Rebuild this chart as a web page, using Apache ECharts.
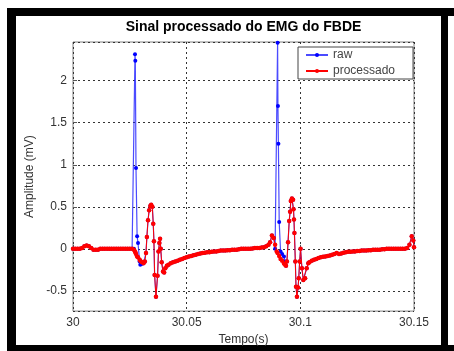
<!DOCTYPE html>
<html><head><meta charset="utf-8">
<script src="https://cdn.jsdelivr.net/npm/echarts@6/dist/echarts.min.js"></script>
<style>html,body{margin:0;padding:0;background:#fff}#c{width:454px;height:351px}</style>
</head><body><div id="c"></div>
<script>
// time in ms after 30 s
const tempoMs = [
 0,1,2,3,4,5,6,7,8,9,10,11,
 12,13,14,15,16,17,18,19,20,21,22,23,24,25,26,
 26.8,27.27,27.41,27.71,28.2,28.6,29.3,29.6,30.2,31,31.6,32.1,32.5,33,33.5,34,34.4,34.9,35.3,35.6,35.9,36.5,37.2,37.6,38,38.3,38.6,39,39.6,40.1,40.6,41.3,
 42,43,44,45,46,47,48,49,50,51,52,53,54,55,56,57,58,59,60,61,62,63,64,65,66,67,68,69,70,71,72,73,74,75,76,77,78,79,80,81,82,83,84,85,
 86,86.7,87.5,88.3,88.9,89.6,90,90.15,90.35,90.7,91.3,92,92.8,93.3,93.7,94.1,94.6,95.1,95.5,95.8,96.3,96.8,97,97.2,97.4,97.8,98.1,98.5,99,99.3,99.7,100.1,100.7,101.3,102.1,102.8,103.5,
 104,105,106,107,108,109,110,111,112,113,114,115,116,117,118,119,120,121,122,123,124,125,126,127,128,129,130,131,132,133,134,135,136,137,138,139,140,141,142,143,144,145,146,
 147,148,149,149.7,150
];
const processado = [
 0,0,0,0,.01,.03,.04,.03,.01,-.01,-.01,-.01,
 0,0,0,0,0,0,0,0,0,0,0,0,0,0,0,
 -.01,-.03,-.04,-.06,-.09,-.10,-.13,-.14,-.155,-.17,-.15,-.05,.14,.34,.46,.51,.525,.50,.30,.09,-.31,-.57,-.32,-.03,.07,.12,0,-.16,-.27,-.28,-.23,-.20,
 -.19,-.17,-.16,-.15,-.14,-.13,-.12,-.11,-.10,-.09,-.085,-.075,-.07,-.06,-.055,-.05,-.045,-.04,-.04,-.035,-.03,-.03,-.025,-.02,-.02,-.02,-.015,-.015,-.01,-.01,-.01,-.005,0,0,0,0,0,.005,.01,.01,.01,.015,.02,.03,
 .05,.08,.16,.13,.05,-.03,-.05,null,null,-.085,-.12,-.14,-.175,-.19,-.20,-.15,.08,.33,.44,.57,.60,.585,.47,.35,.19,-.15,-.45,-.57,-.46,-.35,-.15,0,-.23,-.37,-.35,-.23,-.17,
 -.16,-.14,-.13,-.12,-.11,-.10,-.095,-.09,-.085,-.08,-.07,-.06,-.05,-.06,-.055,-.045,-.04,-.035,-.035,-.03,-.03,-.025,-.025,-.02,-.02,-.02,-.015,-.015,-.01,-.01,-.01,-.01,-.005,-.005,0,0,0,0,0,0,0,0,0,
 .01,.05,.15,.10,.02
];
const raw = [
 0,0,0,0,.01,.03,.04,.03,.01,-.01,-.01,-.01,
 0,0,0,0,0,0,0,0,0,0,0,0,0,0,0,
 0,2.315,2.236,.963,.15,.07,-.15,-.19,-.18,-.17,-.15,-.05,.14,.34,.46,.51,.525,.50,.30,.09,-.31,-.57,-.32,-.03,.07,.12,0,-.16,-.27,-.28,-.23,-.20,
 -.19,-.17,-.16,-.15,-.14,-.13,-.12,-.11,-.10,-.09,-.085,-.075,-.07,-.06,-.055,-.05,-.045,-.04,-.04,-.035,-.03,-.03,-.025,-.02,-.02,-.02,-.015,-.015,-.01,-.01,-.01,-.005,0,0,0,0,0,.005,.01,.01,.01,.015,.02,.03,
 .05,.08,.16,.13,0,null,2.45,1.70,1.25,.32,-.03,-.06,-.09,-.15,-.20,-.15,.08,.33,.44,.57,.60,.585,.47,.35,.19,-.15,-.45,-.57,-.46,-.35,-.15,0,-.23,-.37,-.35,-.23,-.17,
 -.16,-.14,-.13,-.12,-.11,-.10,-.095,-.09,-.085,-.08,-.07,-.06,-.05,-.06,-.055,-.045,-.04,-.035,-.035,-.03,-.03,-.025,-.025,-.02,-.02,-.02,-.015,-.015,-.01,-.01,-.01,-.01,-.005,-.005,0,0,0,0,0,0,0,0,0,
 .01,.05,.15,.10,.02
];
const xTicks = [30, 30.05, 30.1, 30.15];
const yTicks = [-0.5, 0, 0.5, 1, 1.5, 2];
const seriesNames = ['raw', 'processado'];
const titulo = 'Sinal processado do EMG do FBDE';

const FONT = '"Liberation Sans", Arial, sans-serif';
const n = Math.min(tempoMs.length, processado.length, raw.length);
const toPairs = arr => { const out = []; for (let i = 0; i < n; i++) out.push([30 + tempoMs[i] / 1000, arr[i]]); return out; };

const chart = echarts.init(document.getElementById('c'), null, {renderer: 'canvas'});
chart.setOption({
  animation: false,
  backgroundColor: '#fff',
  grid: {left: 73, top: 42, width: 341, height: 271, show: true, borderColor: '#808080', borderWidth: 1, backgroundColor: '#fff'},
  xAxis: {
    type: 'value', min: xTicks[0], max: xTicks[xTicks.length - 1], interval: 0.05,
    axisLine: {show: false},
    axisTick: {inside: true, length: 4, lineStyle: {color: '#555'}},
    splitLine: {show: true, lineStyle: {color: '#333', type: [2, 3], width: 1}},
    axisLabel: {formatter: v => String(+v.toFixed(2)), color: '#333', fontSize: 12, fontFamily: FONT, margin: 6},
    name: 'Tempo(s)', nameLocation: 'middle', nameGap: 19,
    nameTextStyle: {color: '#333', fontSize: 12, fontFamily: FONT}
  },
  yAxis: {
    type: 'value', min: -0.74, max: 2.46, minInterval: 0.5, maxInterval: 0.5, splitNumber: 6,
    axisLine: {show: false},
    axisTick: {inside: true, length: 4, lineStyle: {color: '#555'}},
    splitLine: {show: true, lineStyle: {color: '#333', type: [2, 3], width: 1}},
    axisLabel: {showMinLabel: false, showMaxLabel: false, color: '#333', fontSize: 12, fontFamily: FONT, margin: 6,
      formatter: v => yTicks.some(t => Math.abs(t - v) < 1e-9) ? String(v) : ''},
    name: 'Amplitude (mV)', nameLocation: 'middle', nameGap: 29,
    nameTextStyle: {color: '#333', fontSize: 12, fontFamily: FONT}
  },
  legend: {
    left: 298, top: 47, orient: 'vertical', padding: [0, 18, 0, 7], itemGap: 0, itemWidth: 22, itemHeight: 5,
    borderColor: '#444', borderWidth: 1, backgroundColor: '#fff',
    textStyle: {fontSize: 12, fontFamily: FONT, color: '#444', lineHeight: 16},
    data: seriesNames
  },
  graphic: [
    {type: 'rect', silent: true, shape: {x: 7, y: 8, width: 447, height: 8}, style: {fill: '#000'}},
    {type: 'rect', silent: true, shape: {x: 7, y: 8, width: 9, height: 343}, style: {fill: '#000'}},
    {type: 'rect', silent: true, shape: {x: 7, y: 345, width: 447, height: 6}, style: {fill: '#000'}},
    {type: 'rect', silent: true, shape: {x: 441, y: 8, width: 7, height: 343}, style: {fill: '#000'}},
    {type: 'text', silent: true, x: 243.5, y: 27, style: {text: titulo, fontSize: 14, fontWeight: 'bold', fontFamily: FONT, fill: '#000', align: 'center', verticalAlign: 'middle'}}
  ],
  series: [
    {name: seriesNames[0], type: 'line', data: toPairs(raw), connectNulls: true, symbol: 'circle', symbolSize: 4, showSymbol: true,
     itemStyle: {color: '#0000ff'}, lineStyle: {color: 'rgba(30,30,255,0.8)', width: 1.2}, z: 2},
    {name: seriesNames[1], type: 'line', data: toPairs(processado), connectNulls: true, symbol: 'circle', symbolSize: 4.5, showSymbol: true,
     itemStyle: {color: '#ff0000'}, lineStyle: {color: '#ff0000', width: 1}, z: 3}
  ]
});
</script></body></html>
